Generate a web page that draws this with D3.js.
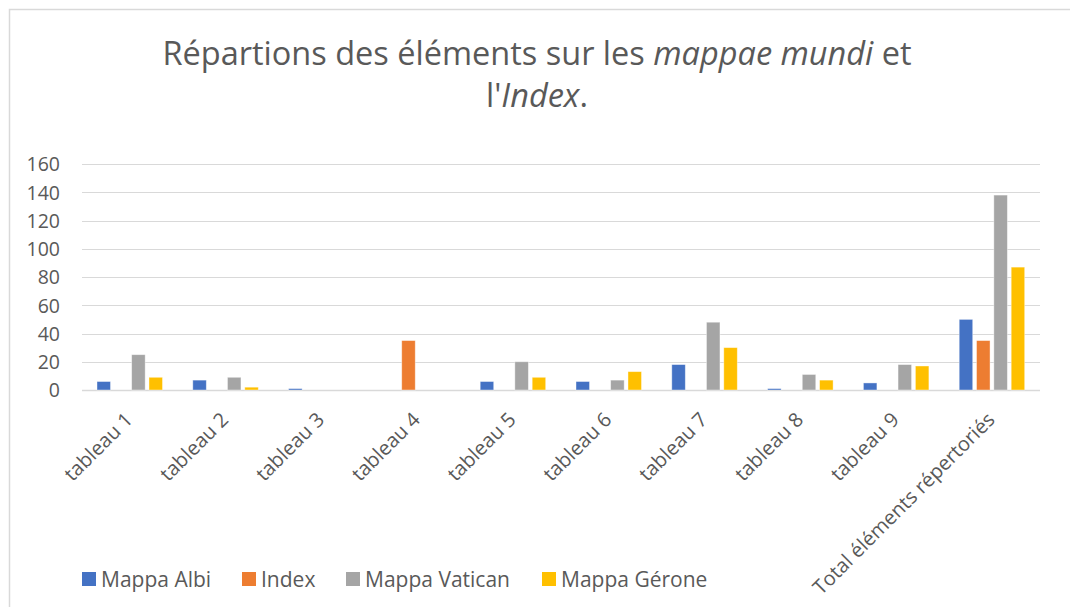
<!DOCTYPE html>
<html>
<head>
<meta charset="utf-8">
<script src="https://cdn.jsdelivr.net/npm/d3@7"></script>
<style>
  html, body { margin: 0; padding: 0; background: #fff; }
  svg { display: block; font-family: "Open Sans", "Noto Sans", sans-serif; }
</style>
</head>
<body>
<svg id="chart" width="1070" height="607"></svg>
<script>
const categories = ["tableau 1", "tableau 2", "tableau 3", "tableau 4", "tableau 5", "tableau 6", "tableau 7", "tableau 8", "tableau 9", "Total éléments répertoriés"];
const seriesNames = ["Mappa Albi", "Index", "Mappa Vatican", "Mappa Gérone"];
const mappaAlbi    = [6, 7, 1, 0, 6, 6, 18, 1, 5, 50];
const indexVals    = [0, 0, 0, 35, 0, 0, 0, 0, 0, 35];
const mappaVatican = [25, 9, 0, 0, 20, 7, 48, 11, 18, 138];
const mappaGerone  = [9, 2, 0, 0, 9, 13, 30, 7, 17, 87];
const yTicks = [0, 20, 40, 60, 80, 100, 120, 140, 160];
const colors = ["#4472C4", "#ED7D31", "#A5A5A5", "#FFC000"];

const seriesValues = [mappaAlbi, indexVals, mappaVatican, mappaGerone];
const rows = categories.map((c, i) => ({
  cat: c,
  vals: seriesNames.map((s, j) => ({ s, j, v: seriesValues[j][i] }))
}));

const svg = d3.select("#chart");
const textColor = "#595959";
const gridColor = "#d9d9d9";

// chart border
svg.append("rect").attr("x", 9.5).attr("y", 9.5).attr("width", 1080).attr("height", 620)
  .attr("fill", "#fff").attr("stroke", gridColor).attr("stroke-width", 1.5);

// title
const title = svg.append("text").attr("text-anchor", "middle").attr("fill", textColor)
  .style("font-size", "32.5px");
const l1 = title.append("tspan").attr("x", 537).attr("y", 65);
l1.append("tspan").text("Répartions des éléments sur les ");
l1.append("tspan").style("font-style", "italic").text("mappae mundi");
l1.append("tspan").text(" et");
const l2 = title.append("tspan").attr("x", 537).attr("y", 107);
l2.append("tspan").text("l'");
l2.append("tspan").style("font-style", "italic").text("Index");
l2.append("tspan").text(".");

const x0 = d3.scaleBand().domain(categories).range([82, 1040]).padding(0);
const x1 = d3.scaleBand().domain(seriesNames).range([15, 80.5]).paddingInner(0.22).paddingOuter(0);
const y = d3.scaleLinear().domain([0, 160]).range([390, 164]);

// gridlines
svg.append("g").selectAll("line").data(yTicks).join("line")
  .attr("x1", 82).attr("x2", 1040)
  .attr("y1", d => Math.round(y(d)) + 0.5).attr("y2", d => Math.round(y(d)) + 0.5)
  .attr("stroke", gridColor).attr("stroke-width", d => d === 0 ? 1.5 : 1.2);

// y axis
const yAxis = svg.append("g").attr("transform", "translate(70,0)")
  .call(d3.axisLeft(y).tickValues(yTicks).tickSize(0).tickPadding(10));
yAxis.select(".domain").remove();
yAxis.selectAll("text").attr("fill", textColor).style("font-size", "19.5px")
  .style("font-family", "'Open Sans', sans-serif").attr("dy", "0.35em");

// bars
const groups = svg.append("g").selectAll("g").data(rows).join("g")
  .attr("transform", d => `translate(${x0(d.cat)},0)`);
groups.selectAll("rect").data(d => d.vals.filter(v => v.v > 0)).join("rect")
  .attr("x", d => x1(d.s))
  .attr("width", x1.bandwidth())
  .attr("y", d => y(d.v))
  .attr("height", d => y(0) - y(d.v))
  .attr("fill", d => colors[d.j])
  .attr("stroke", "#fff").attr("stroke-opacity", 0.5).attr("stroke-width", 0.8);

// x axis labels
const xAxis = svg.append("g").attr("transform", "translate(0,390)")
  .call(d3.axisBottom(x0).tickSize(0).tickPadding(0));
xAxis.select(".domain").remove();
xAxis.selectAll("text")
  .attr("fill", textColor).style("font-size", "20px")
  .style("font-family", "'Open Sans', sans-serif")
  .attr("text-anchor", "end")
  .attr("dy", 0)
  .attr("y", 0)
  .attr("transform", "translate(4,31) rotate(-45)");

// legend
const legendX = [82, 242, 346, 542];
const legend = svg.append("g").selectAll("g").data(seriesNames).join("g")
  .attr("transform", (d, i) => `translate(${legendX[i]},572)`);
legend.append("rect").attr("width", 14).attr("height", 14).attr("fill", (d, i) => colors[i]);
legend.append("text").attr("x", 19).attr("y", 14.5).attr("fill", textColor)
  .style("font-size", "21px").text(d => d);
</script>
</body>
</html>
